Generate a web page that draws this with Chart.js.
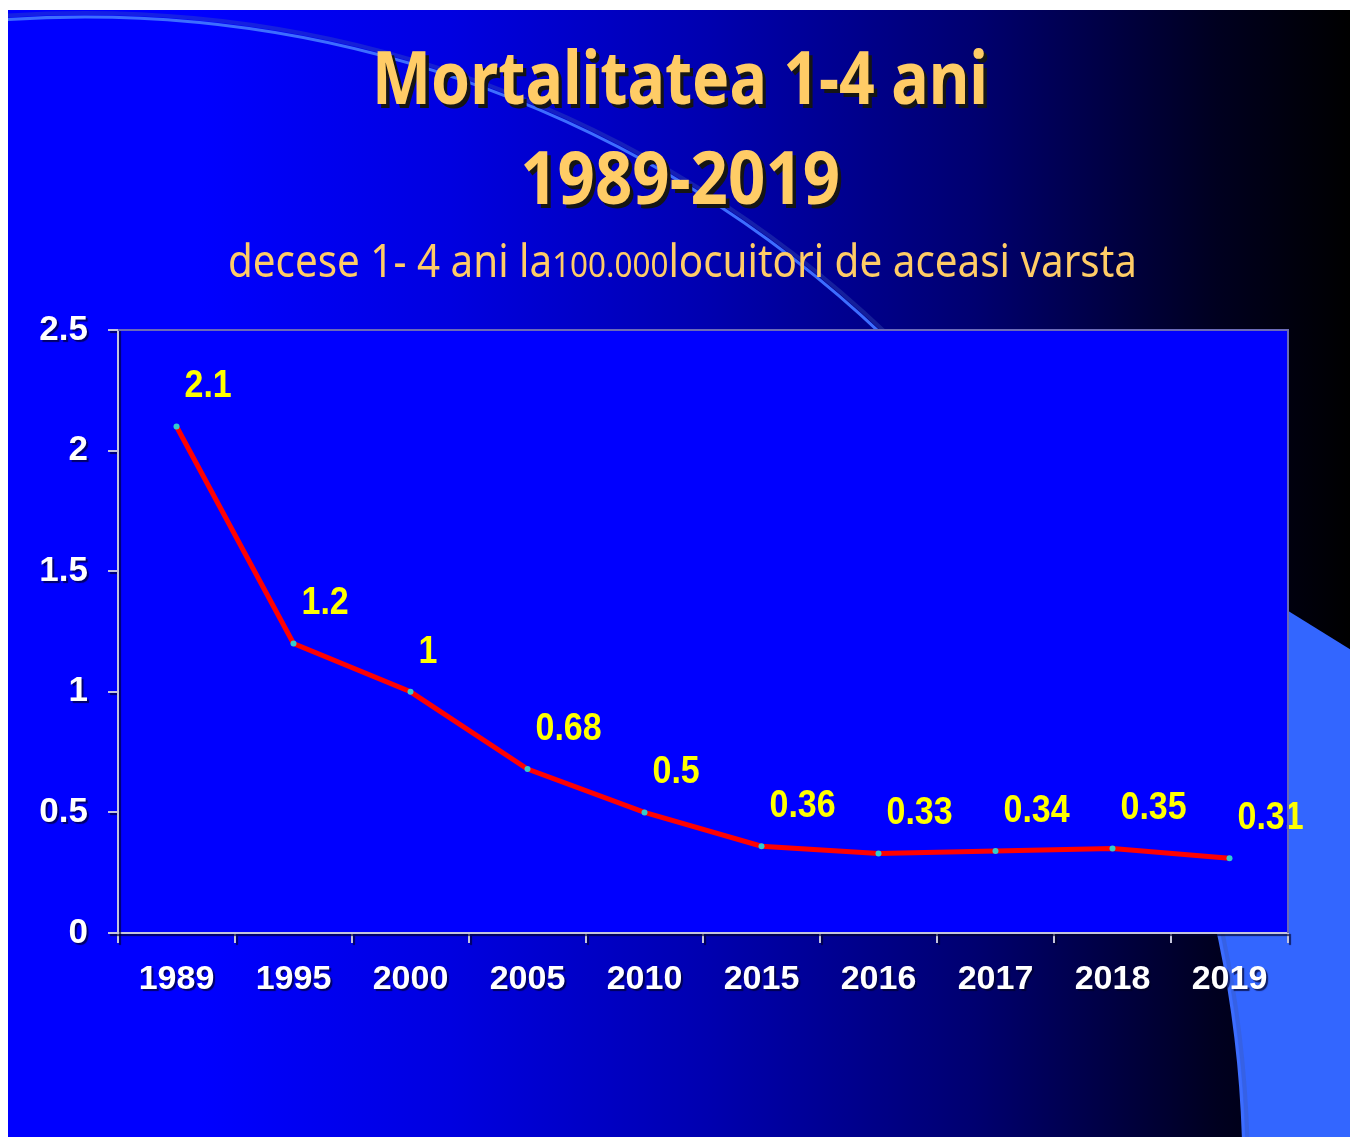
<!DOCTYPE html>
<html>
<head>
<meta charset="utf-8">
<script src="https://cdn.jsdelivr.net/npm/chart.js@4.4.1/dist/chart.umd.min.js"></script>
<style>
  html, body { margin: 0; padding: 0; background: #ffffff; }
  #wrap { position: relative; width: 1357px; height: 1137px; overflow: hidden; }
  canvas { position: absolute; left: 0; top: 0; }
  .ttl { position: absolute; left: 0; width: 1357px; text-align: center; white-space: nowrap; line-height: 1; color: #ffcc66; font-family: "Noto Sans", "DejaVu Sans", sans-serif; }
  .ttl span.in { display: inline-block; transform-origin: 50% 50%; }
  .big { font-weight: bold; font-size: 74px; text-shadow: 4px 4px 0 #151515; }
  .sub { font-weight: normal; font-size: 45px; }
  .small { font-size: 35px; }
</style>
</head>
<body>
<div id="wrap">
  <canvas id="c" width="1357" height="1137"></canvas>
  <div class="ttl big" id="t1" data-w="616" data-cx="680" style="top:39px"><span class="in">Mortalitatea 1-4 ani</span></div>
  <div class="ttl big" id="t2" data-w="320" data-cx="680" style="top:139px"><span class="in">1989-2019</span></div>
  <div class="ttl sub" id="t3" data-w="909" data-cx="682" style="top:237px"><span class="in">decese 1- 4 ani la<span class="small">100.000</span>locuitori de aceasi varsta</span></div>
</div>
<script>
// ---- data ----
const years = ['1989', '1995', '2000', '2005', '2010', '2015', '2016', '2017', '2018', '2019'];
const mortality = [2.1, 1.2, 1, 0.68, 0.5, 0.36, 0.33, 0.34, 0.35, 0.31];
const yTicks = [0, 0.5, 1, 1.5, 2, 2.5];

// ---- title fitting ----
function fitTitles() {
  document.querySelectorAll('.ttl').forEach(d => {
    const sp = d.querySelector('span.in');
    sp.style.transform = 'none';
    const w = sp.getBoundingClientRect().width;
    const target = parseFloat(d.dataset.w);
    const cx = parseFloat(d.dataset.cx);
    sp.style.transform = 'scaleX(' + (target / w) + ')';
    d.style.left = (cx - 1357 / 2) + 'px';
  });
}
fitTitles();
if (document.fonts && document.fonts.ready) document.fonts.ready.then(fitTitles);

// ---- slide background plugin ----
const slideBg = {
  id: 'slideBg',
  beforeDraw(chart) {
    const ctx = chart.ctx;
    const W = 1357, H = 1137;
    const sx = 8, sy = 10, ex = 1350, ey = 1137;
    ctx.save();
    ctx.fillStyle = '#ffffff';
    ctx.fillRect(0, 0, W, H);
    const g = ctx.createLinearGradient(sx, 0, ex, 0);
    g.addColorStop(0, '#0000ff');
    g.addColorStop(0.14, '#0000ff');
    g.addColorStop(0.33, '#0000e0');
    g.addColorStop(0.52, '#0000b0');
    g.addColorStop(0.72, '#000070');
    g.addColorStop(0.9, '#000020');
    g.addColorStop(1, '#000000');
    ctx.fillStyle = g;
    ctx.fillRect(sx, sy, ex - sx, ey - sy);

    // decorative circle
    const cx = 85, cy = 1176, r = 1159;
    ctx.beginPath();
    ctx.rect(sx, sy, ex - sx, ey - sy);
    ctx.clip();

    ctx.save();
    const slope = 0.62;
    const ly = x => 612 + (x - 1290) * slope;
    ctx.beginPath();
    ctx.moveTo(800, ly(800));
    ctx.lineTo(ex, ly(ex));
    ctx.lineTo(ex, ey);
    ctx.lineTo(800, ey);
    ctx.closePath();
    ctx.clip();
    ctx.beginPath();
    ctx.rect(sx, sy, ex - sx, ey - sy);
    ctx.arc(cx, cy, r, 0, Math.PI * 2);
    ctx.fillStyle = '#3366ff';
    ctx.fill('evenodd');
    ctx.restore();

    ctx.beginPath();
    ctx.arc(cx, cy, r + 4, Math.PI, Math.PI * 2);
    ctx.strokeStyle = 'rgba(60,90,180,0.35)';
    ctx.lineWidth = 4;
    ctx.stroke();
    ctx.beginPath();
    ctx.arc(cx, cy, r, Math.PI, Math.PI * 2);
    ctx.strokeStyle = '#3d6dff';
    ctx.lineWidth = 3;
    ctx.stroke();
    ctx.restore();

    const a = chart.chartArea;
    ctx.save();
    ctx.fillStyle = '#0000ff';
    ctx.fillRect(a.left, a.top, a.right - a.left, a.bottom - a.top);
    ctx.restore();
    // shadow for axis labels (reset before datasets)
    ctx.shadowColor = 'rgba(0,0,40,0.7)';
    ctx.shadowOffsetX = 2;
    ctx.shadowOffsetY = 2;
    ctx.shadowBlur = 1;
  },
  beforeDatasetsDraw(chart) {
    const ctx = chart.ctx;
    ctx.shadowColor = 'rgba(0,0,0,0)';
    ctx.shadowOffsetX = 0;
    ctx.shadowOffsetY = 0;
    ctx.shadowBlur = 0;
  },
  afterDraw(chart) {
    const a = chart.chartArea;
    const ctx = chart.ctx;
    ctx.save();
    ctx.strokeStyle = '#6a6ab8';
    ctx.lineWidth = 2;
    ctx.beginPath();
    ctx.moveTo(a.left, a.top);
    ctx.lineTo(a.right, a.top);
    ctx.lineTo(a.right, a.bottom);
    ctx.stroke();
    ctx.restore();
  }
};

// ---- value labels ----
const valueLabels = {
  id: 'valueLabels',
  afterDatasetsDraw(chart) {
    const ctx = chart.ctx;
    const meta = chart.getDatasetMeta(0);
    const data = chart.data.datasets[0].data;
    ctx.save();
    ctx.font = 'bold 34px "Liberation Sans", Arial, sans-serif';
    ctx.fillStyle = '#ffff00';
    ctx.textAlign = 'left';
    ctx.textBaseline = 'middle';
    meta.data.forEach((pt, i) => {
      ctx.save();
      ctx.translate(pt.x + 8, pt.y - 40);
      ctx.scale(1, 1.15);
      ctx.fillText(String(data[i]), 0, 0);
      ctx.restore();
    });
    ctx.restore();
  }
};

const axisColor = '#c4c4dc';
new Chart(document.getElementById('c'), {
  type: 'line',
  data: {
    labels: years,
    datasets: [{
      data: mortality,
      borderColor: '#ff0000',
      borderWidth: 5,
      tension: 0,
      pointRadius: 3,
      pointBackgroundColor: '#33cccc',
      pointBorderWidth: 0,
      fill: false
    }]
  },
  options: {
    responsive: false,
    animation: false,
    devicePixelRatio: 1,
    layout: { padding: { top: 330, right: 69, left: 0, bottom: 0 } },
    plugins: { legend: { display: false }, tooltip: { enabled: false }, title: { display: false } },
    scales: {
      x: {
        offset: true,
        grid: { display: true, offset: true, drawOnChartArea: false, drawTicks: true, tickLength: 10, color: axisColor, lineWidth: 2 },
        border: { display: true, color: axisColor, width: 2 },
        ticks: { color: '#ffffff', padding: 16, maxRotation: 0, autoSkip: false, font: { family: '"Liberation Sans", Arial, sans-serif', size: 34, weight: 'bold' } },
        afterFit(s) { s.height = 204; }
      },
      y: {
        min: 0, max: 2.5,
        afterBuildTicks(s) { s.ticks = yTicks.map(v => ({ value: v })); },
        grid: { display: true, drawOnChartArea: false, drawTicks: true, tickLength: 10, color: axisColor, lineWidth: 2 },
        border: { display: true, color: axisColor, width: 2 },
        ticks: { color: '#ffffff', padding: 20, callback: v => String(v), font: { family: '"Liberation Sans", Arial, sans-serif', size: 35, weight: 'bold' } },
        afterFit(s) { s.width = 118; }
      }
    }
  },
  plugins: [slideBg, valueLabels]
});
</script>
</body>
</html>
